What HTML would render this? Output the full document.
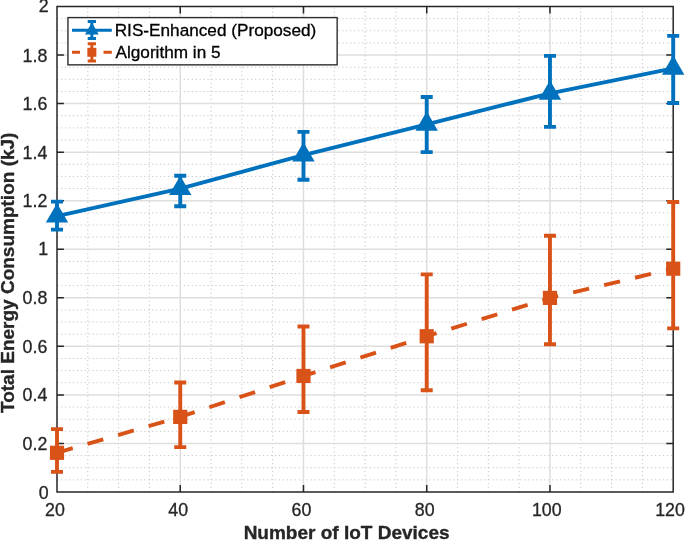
<!DOCTYPE html>
<html lang="en"><head><meta charset="utf-8"><title>Total Energy Consumption vs Number of IoT Devices</title>
<style>html,body{margin:0;padding:0;background:#fff}body{width:685px;height:540px;overflow:hidden}</style></head>
<body>
<svg width="685" height="540" viewBox="0 0 685 540" style="display:block">
<rect width="685" height="540" fill="#fff"/>
<g stroke="#c9c9c9" stroke-width="1" stroke-dasharray="1.3 2.66" fill="none">
<path d="M87.81 492.0V6.5"/>
<path d="M118.62 492.0V6.5"/>
<path d="M149.43 492.0V6.5"/>
<path d="M211.05 492.0V6.5"/>
<path d="M241.86 492.0V6.5"/>
<path d="M272.67 492.0V6.5"/>
<path d="M334.29 492.0V6.5"/>
<path d="M365.10 492.0V6.5"/>
<path d="M395.91 492.0V6.5"/>
<path d="M457.53 492.0V6.5"/>
<path d="M488.34 492.0V6.5"/>
<path d="M519.15 492.0V6.5"/>
<path d="M580.77 492.0V6.5"/>
<path d="M611.58 492.0V6.5"/>
<path d="M642.39 492.0V6.5"/>
<path d="M57.0 479.86H673.2"/>
<path d="M57.0 467.73H673.2"/>
<path d="M57.0 455.59H673.2"/>
<path d="M57.0 431.31H673.2"/>
<path d="M57.0 419.17H673.2"/>
<path d="M57.0 407.04H673.2"/>
<path d="M57.0 382.76H673.2"/>
<path d="M57.0 370.62H673.2"/>
<path d="M57.0 358.49H673.2"/>
<path d="M57.0 334.21H673.2"/>
<path d="M57.0 322.07H673.2"/>
<path d="M57.0 309.94H673.2"/>
<path d="M57.0 285.66H673.2"/>
<path d="M57.0 273.52H673.2"/>
<path d="M57.0 261.39H673.2"/>
<path d="M57.0 237.11H673.2"/>
<path d="M57.0 224.97H673.2"/>
<path d="M57.0 212.84H673.2"/>
<path d="M57.0 188.56H673.2"/>
<path d="M57.0 176.43H673.2"/>
<path d="M57.0 164.29H673.2"/>
<path d="M57.0 140.01H673.2"/>
<path d="M57.0 127.88H673.2"/>
<path d="M57.0 115.74H673.2"/>
<path d="M57.0 91.46H673.2"/>
<path d="M57.0 79.32H673.2"/>
<path d="M57.0 67.19H673.2"/>
<path d="M57.0 42.91H673.2"/>
<path d="M57.0 30.77H673.2"/>
<path d="M57.0 18.64H673.2"/>
</g>
<g stroke="#dedede" stroke-width="1.5" fill="none">
<path d="M180.24 492.0V6.5"/>
<path d="M303.48 492.0V6.5"/>
<path d="M426.72 492.0V6.5"/>
<path d="M549.96 492.0V6.5"/>
<path d="M57.0 443.45H673.2"/>
<path d="M57.0 394.90H673.2"/>
<path d="M57.0 346.35H673.2"/>
<path d="M57.0 297.80H673.2"/>
<path d="M57.0 249.25H673.2"/>
<path d="M57.0 200.70H673.2"/>
<path d="M57.0 152.15H673.2"/>
<path d="M57.0 103.60H673.2"/>
<path d="M57.0 55.05H673.2"/>
</g>
<g stroke="#262626" stroke-width="1.5" fill="none">
<rect x="57.0" y="6.5" width="616.2" height="485.5"/>
<path d="M180.24 492.0v-6.9M180.24 6.5v6.9"/>
<path d="M303.48 492.0v-6.9M303.48 6.5v6.9"/>
<path d="M426.72 492.0v-6.9M426.72 6.5v6.9"/>
<path d="M549.96 492.0v-6.9M549.96 6.5v6.9"/>
<path d="M57.0 443.45h6.9M673.2 443.45h-6.9"/>
<path d="M57.0 394.90h6.9M673.2 394.90h-6.9"/>
<path d="M57.0 346.35h6.9M673.2 346.35h-6.9"/>
<path d="M57.0 297.80h6.9M673.2 297.80h-6.9"/>
<path d="M57.0 249.25h6.9M673.2 249.25h-6.9"/>
<path d="M57.0 200.70h6.9M673.2 200.70h-6.9"/>
<path d="M57.0 152.15h6.9M673.2 152.15h-6.9"/>
<path d="M57.0 103.60h6.9M673.2 103.60h-6.9"/>
<path d="M57.0 55.05h6.9M673.2 55.05h-6.9"/>
</g>
<g font-family="Liberation Sans, Arial, Helvetica, sans-serif" font-size="17.8" fill="#262626" stroke="#262626" stroke-width="0.3">
<text x="55.00" y="515.5" text-anchor="middle">20</text>
<text x="178.24" y="515.5" text-anchor="middle">40</text>
<text x="301.48" y="515.5" text-anchor="middle">60</text>
<text x="424.72" y="515.5" text-anchor="middle">80</text>
<text x="546.76" y="515.5" text-anchor="middle">100</text>
<text x="670.00" y="515.5" text-anchor="middle">120</text>
<text x="48.60" y="499.35" text-anchor="end">0</text>
<text x="47.30" y="449.90" text-anchor="end">0.2</text>
<text x="47.30" y="401.35" text-anchor="end">0.4</text>
<text x="47.30" y="352.80" text-anchor="end">0.6</text>
<text x="47.30" y="304.25" text-anchor="end">0.8</text>
<text x="48.10" y="255.30" text-anchor="end">1</text>
<text x="47.30" y="207.15" text-anchor="end">1.2</text>
<text x="47.30" y="158.60" text-anchor="end">1.4</text>
<text x="47.30" y="110.05" text-anchor="end">1.6</text>
<text x="47.30" y="61.50" text-anchor="end">1.8</text>
<text x="48.60" y="12.15" text-anchor="end">2</text>
</g>
<g font-family="Liberation Sans, Arial, Helvetica, sans-serif" font-weight="bold" font-size="19" fill="#262626" stroke="#262626" stroke-width="0.35">
<text x="346.6" y="538.9" text-anchor="middle">Number of IoT Devices</text>
<text transform="translate(14.1 272.8) rotate(-90)" text-anchor="middle">Total Energy Consumption (kJ)</text>
</g>
<defs><clipPath id="c"><rect x="0" y="0" width="685" height="540"/></clipPath></defs>
<g stroke="#D95319" stroke-width="3.9" fill="none" stroke-linejoin="round">
<polyline points="57.00,452.80 180.24,416.89 303.48,375.97 426.72,336.25 549.96,297.90 673.20,268.69" stroke-dasharray="16.4 15.4"/>
<path d="M57.00 471.85V429.08M51.00 471.85h12.0M51.00 429.08h12.0"/>
<path d="M180.24 447.09V382.50M174.24 447.09h12.0M174.24 382.50h12.0"/>
<path d="M303.48 411.99V326.49M297.48 411.99h12.0M297.48 326.49h12.0"/>
<path d="M426.72 390.21V274.40M420.72 390.21h12.0M420.72 274.40h12.0"/>
<path d="M549.96 344.29V235.80M543.96 344.29h12.0M543.96 235.80h12.0"/>
<path d="M673.20 328.39V202.01M667.20 328.39h12.0M667.20 202.01h12.0"/>
</g>
<g fill="#D95319" stroke="none">
<rect x="49.90" y="445.70" width="14.2" height="14.2"/>
<rect x="173.14" y="409.79" width="14.2" height="14.2"/>
<rect x="296.38" y="368.87" width="14.2" height="14.2"/>
<rect x="419.62" y="329.15" width="14.2" height="14.2"/>
<rect x="542.86" y="290.80" width="14.2" height="14.2"/>
<rect x="666.10" y="261.59" width="14.2" height="14.2"/>
</g>
<g stroke="#0072BD" stroke-width="3.9" fill="none" stroke-linejoin="round">
<polyline points="57.00,216.09 180.24,188.56 303.48,155.11 426.72,124.31 549.96,93.31 673.20,68.30"/>
<path d="M57.00 229.59V201.67M51.00 229.59h12.0M51.00 201.67h12.0"/>
<path d="M180.24 206.21V175.70M174.24 206.21h12.0M174.24 175.70h12.0"/>
<path d="M303.48 179.80V131.90M297.48 179.80h12.0M297.48 131.90h12.0"/>
<path d="M426.72 152.15V97.05M420.72 152.15h12.0M420.72 97.05h12.0"/>
<path d="M549.96 126.86V55.90M543.96 126.86h12.0M543.96 55.90h12.0"/>
<path d="M673.20 103.07V35.87M667.20 103.07h12.0M667.20 35.87h12.0"/>
</g>
<g fill="#0072BD" stroke="none">
<path d="M57.00 203.16L68.20 222.56H45.80Z"/>
<path d="M180.24 175.63L191.44 195.03H169.04Z"/>
<path d="M303.48 142.18L314.68 161.58H292.28Z"/>
<path d="M426.72 111.37L437.92 130.77H415.52Z"/>
<path d="M549.96 80.37L561.16 99.77H538.76Z"/>
<path d="M673.20 55.37L684.40 74.77H662.00Z"/>
</g>
<rect x="67.95" y="17.6" width="269.2" height="47.24999999999999" fill="#fff" stroke="#2e2e2e" stroke-width="1.4"/>
<g stroke="#0072BD" stroke-width="3.0" fill="none">
<path d="M72 30.3H111.8M91.85 21.6V38.6M87.69999999999999 21.6h8.3M87.69999999999999 38.6h8.3"/>
</g>
<path d="M91.85 22.55L98.75 34.5H84.94999999999999Z" fill="#0072BD"/>
<g stroke="#D95319" stroke-width="3.0" fill="none">
<path d="M72 52.3H80M103.5 52.3H111.8"/>
<path d="M91.85 43.7V60.9M87.69999999999999 43.7h8.3M87.69999999999999 60.9h8.3"/>
</g>
<rect x="87.35" y="47.8" width="9" height="9" fill="#D95319"/>
<g font-family="Liberation Sans, Arial, Helvetica, sans-serif" font-size="17.2" fill="#000" stroke="#000" stroke-width="0.3">
<text x="114.7" y="35.8">RIS-Enhanced (Proposed)</text>
<text x="115.5" y="57.9">Algorithm in 5</text>
</g>
</svg>
</body></html>
